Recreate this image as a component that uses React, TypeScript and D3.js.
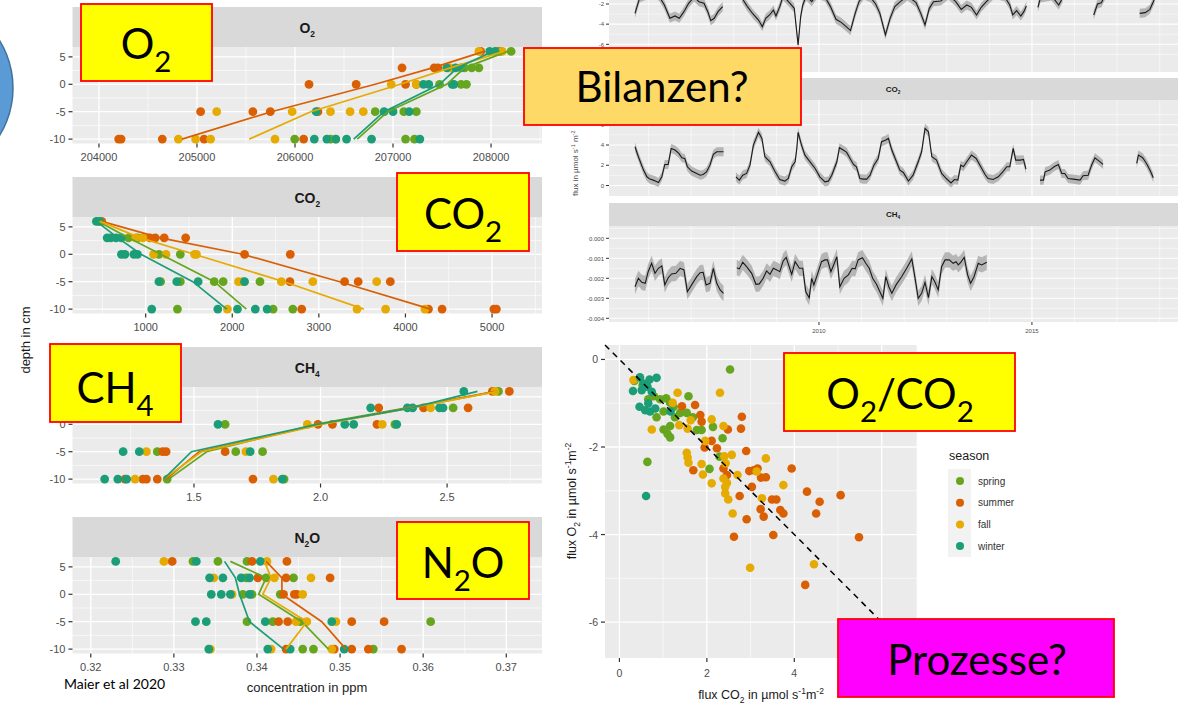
import React from 'react';
import * as d3 from 'd3';

const seasons = ['spring', 'summer', 'fall', 'winter'];
const seasonColors = ['#66A61E', '#D95F02', '#E6AB02', '#1B9E77'];
const depthLevels = [6, 3, 0, -5, -10];

// ---- depth profiles: values per depth level (6, 3, 0, -5, -10) ----
const o2Spring = [[208205, 208059], [207803, 207876, 207730], [207475, 207694, 207749], [206818, 207110, 207238], [205997, 206362, 207128, 207219]];
const o2Summer = [[207895, 208095], [207092, 207420, 207457], [206143, 206624, 207128, 207238], [205037, 205570, 205748, 206234], [204201, 204226, 204646, 205073, 206088]];
const o2Fall = [[207876, 208114], [207566, 207584], [206982, 207238], [205201, 205971, 206362, 206562, 206697], [204810, 204986, 205139, 205796, 206416]];
const o2Winter = [[207986, 208041], [207548, 207639, 207694], [207311, 207365, 207603, 207621], [206216, 206909, 207000, 207165], [206197, 206325, 206416, 206526, 206781, 207274]];
const o2Means = [
  [208168, 207730, 207548, 206946, 206635],
  [207931, 207402, 206818, 205759, 204847],
  [208132, 207584, 207073, 206161, 205533],
  [208022, 207657, 207475, 206909, 206599],
];

const co2Spring = [[460], [802, 905], [1153, 1400], [1173, 1400, 1792, 1895, 2320], [1367, 2472, 2699]];
const co2Summer = [[493], [1049, 1111, 1214, 1462], [2142, 2670], [2666, 3297, 3454, 3825], [2802, 4266, 4423, 5021, 5050]];
const co2Fall = [[472], [885, 967], [1091, 1235, 1565, 1586], [2072, 2122, 2567, 2930, 3668], [1944, 3441, 3771, 4225]];
const co2Winter = [[431, 472], [555, 596, 658, 720], [720, 761, 864, 905], [1153, 1359, 1606, 2142], [1070, 1833, 2060, 2266, 2402]];
const co2Means = [
  [452, 802, 1173, 1792, 2163],
  [493, 1170, 2120, 3240, 4290],
  [472, 940, 1560, 2600, 3520],
  [431, 680, 946, 1544, 1936],
];

const ch4Spring = [[2.703], [2.524], [1.623, 2.294], [1.355, 1.665, 1.771], [1.394, 1.856]];
const ch4Summer = [[2.679, 2.746], [2.23, 2.407, 2.583], [1.99, 2.047, 2.223], [1.376, 1.39, 1.623], [1.227, 1.298, 1.312, 1.355, 1.733]];
const ch4Fall = [[2.689], [2.435], [1.948, 2.244], [1.312, 1.705], [1.267, 1.814]];
const ch4Winter = [[2.566], [2.198, 2.343, 2.364, 2.47, 2.484], [1.595, 2.096, 2.131, 2.301], [1.22, 1.284, 1.722], [1.147, 1.199, 1.234, 1.849]];
const ch4Means = [
  [2.7, 2.34, 1.98, 1.55, 1.4],
  [2.69, 2.35, 2.0, 1.52, 1.39],
  [2.7, 2.36, 2.01, 1.53, 1.38],
  [2.62, 2.36, 1.99, 1.49, 1.38],
];

const n2oSpring = [[0.3323, 0.3353, 0.3388], [0.3387, 0.3411, 0.3444], [0.3383, 0.3394, 0.3428], [0.3388, 0.3419, 0.3452, 0.3609], [0.3455, 0.3468, 0.354]];
const n2oSummer = [[0.3298, 0.3394, 0.3436], [0.3401, 0.3435, 0.3488], [0.3432, 0.3445, 0.3448], [0.3426, 0.3437, 0.3514, 0.3553], [0.3435, 0.3493, 0.3514, 0.3534, 0.3574]];
const n2oFall = [[0.3288, 0.3412], [0.3348, 0.3421, 0.3465], [0.337, 0.3455], [0.3447, 0.346, 0.3495], [0.3344, 0.3417, 0.349]];
const n2oWinter = [[0.323, 0.3327, 0.3404], [0.3343, 0.3359, 0.3381, 0.3391], [0.3345, 0.3357, 0.3368, 0.3391], [0.3326, 0.3339, 0.341, 0.349], [0.3342, 0.3413, 0.344, 0.3505]];
const n2oMeans = [
  [0.3368, 0.3411, 0.3402, 0.3454, 0.3486],
  [0.3411, 0.343, 0.343, 0.3478, 0.3507],
  [0.3409, 0.3417, 0.3407, 0.346, 0.3435],
  [0.3361, 0.3374, 0.3379, 0.3391, 0.3432],
];

// ---- flux time series: [decimal year, flux] per continuous segment ----
const o2Flux = [
  [[2005.68, -2.93], [2005.79, -1.4], [2006.02, -1.0], [2006.24, -1.2], [2006.37, -2.1], [2006.5, -3.42], [2006.62, -3.19], [2006.72, -3.42], [2006.83, -2.76], [2006.94, -1.93], [2007.07, -1.3], [2007.18, -1.77], [2007.3, -1.93], [2007.39, -2.76], [2007.46, -3.65], [2007.54, -3.42], [2007.63, -2.76], [2007.74, -2.26]],
  [[2008.19, -1.4], [2008.32, -2.26], [2008.45, -2.99], [2008.58, -3.59], [2008.67, -4.25], [2008.75, -3.42], [2008.84, -3.09], [2008.93, -2.6], [2008.99, -3.19], [2009.08, -2.26], [2009.16, -1.2], [2009.32, -1.93], [2009.42, -2.43], [2009.51, -6.07], [2009.57, -3.26], [2009.62, -2.1], [2009.7, -1.2], [2009.83, -1.77], [2009.96, -1.0], [2010.14, -1.3], [2010.27, -2.26], [2010.4, -3.52], [2010.53, -3.85], [2010.64, -4.25], [2010.74, -4.64], [2010.85, -2.93], [2010.94, -1.77], [2011.05, -1.1], [2011.22, -1.4], [2011.33, -2.0], [2011.43, -2.93], [2011.56, -5.07], [2011.67, -3.42], [2011.78, -2.26], [2011.91, -1.77], [2012.08, -1.2], [2012.28, -1.87], [2012.39, -2.93], [2012.49, -4.08], [2012.59, -2.43], [2012.69, -1.77], [2012.86, -1.7], [2013.04, -1.1], [2013.21, -1.77], [2013.34, -2.53], [2013.47, -2.1], [2013.58, -2.33], [2013.7, -3.09], [2013.81, -2.33], [2013.93, -1.77], [2014.12, -1.0], [2014.36, -1.3], [2014.48, -2.1], [2014.55, -3.09], [2014.64, -2.66], [2014.74, -3.19], [2014.81, -2.76], [2014.87, -2.2]],
  [[2015.14, -2.33], [2015.2, -1.4], [2015.46, -1.2], [2015.63, -2.1], [2015.72, -1.4]],
  [[2016.45, -3.09], [2016.54, -2.0], [2016.63, -1.87], [2016.71, -1.2]],
  [[2017.53, -2.93], [2017.66, -2.86], [2017.77, -2.53], [2017.88, -1.5]],
];
const co2Flux = [
  [[2005.68, 3.83], [2005.76, 2.84], [2005.88, 1.52], [2005.96, 0.86], [2006.03, 0.63], [2006.11, 0.53], [2006.17, 0.43], [2006.23, 0.3], [2006.31, 0.86], [2006.38, 2.08], [2006.46, 2.08], [2006.53, 3.66], [2006.62, 3.5], [2006.71, 3.17], [2006.78, 2.74], [2006.85, 2.67], [2006.91, 1.85], [2007.01, 1.42], [2007.13, 1.19], [2007.21, 1.02], [2007.28, 1.09], [2007.36, 1.35], [2007.44, 2.01], [2007.52, 3.07], [2007.6, 3.33], [2007.76, 3.33]],
  [[2008.05, 0.86], [2008.13, 0.53], [2008.21, 1.02], [2008.3, 1.19], [2008.38, 2.01], [2008.46, 3.99], [2008.58, 5.25], [2008.66, 4.65], [2008.73, 2.84], [2008.85, 2.34], [2008.97, 1.35], [2009.08, 0.59], [2009.2, 0.43], [2009.28, 0.69], [2009.36, 1.85], [2009.44, 2.34], [2009.48, 3.66], [2009.51, 5.25], [2009.59, 3.99], [2009.67, 3.0], [2009.79, 2.34], [2009.91, 1.68], [2010.02, 0.86], [2010.14, 0.36], [2010.22, 0.43], [2010.3, 1.02], [2010.42, 2.34], [2010.48, 3.73], [2010.57, 3.5], [2010.65, 3.27], [2010.73, 2.67], [2010.81, 2.08], [2010.88, 1.85], [2010.96, 0.69], [2011.04, 0.63], [2011.12, 0.63], [2011.2, 1.02], [2011.29, 2.01], [2011.39, 2.67], [2011.47, 4.32], [2011.57, 4.49], [2011.63, 4.65], [2011.71, 3.5], [2011.82, 2.34], [2011.9, 1.52], [2011.98, 1.29], [2012.1, 0.43], [2012.21, 1.02], [2012.33, 2.34], [2012.41, 3.33], [2012.49, 5.64], [2012.57, 5.31], [2012.65, 2.84], [2012.76, 2.51], [2012.88, 1.19], [2012.99, 0.69], [2013.1, 0.26], [2013.18, 0.59], [2013.26, 0.53], [2013.33, 2.01], [2013.39, 1.85], [2013.47, 2.34], [2013.58, 3.0], [2013.69, 2.67], [2013.78, 2.01], [2013.9, 1.09], [2013.97, 0.69], [2014.09, 0.59], [2014.21, 0.86], [2014.33, 1.42], [2014.41, 1.85], [2014.48, 1.85], [2014.56, 3.66], [2014.62, 2.51], [2014.73, 2.51], [2014.8, 2.57], [2014.86, 1.62]],
  [[2015.19, 0.53], [2015.27, 0.53], [2015.31, 1.35], [2015.42, 1.52], [2015.52, 1.85], [2015.62, 2.08], [2015.7, 1.19], [2015.77, 1.19], [2015.85, 0.69], [2015.97, 0.63], [2016.13, 0.53], [2016.2, 0.96], [2016.32, 1.02], [2016.4, 2.01], [2016.48, 2.74], [2016.6, 2.34], [2016.67, 2.08]],
  [[2017.46, 2.18], [2017.5, 3.0], [2017.6, 2.74], [2017.69, 2.18], [2017.77, 1.52], [2017.85, 0.76]],
];
const ch4Flux = [
  [[2005.68, -0.00242], [2005.76, -0.002], [2005.84, -0.0022], [2005.92, -0.00225], [2005.99, -0.00167], [2006.07, -0.00125], [2006.15, -0.00175], [2006.23, -0.0015], [2006.31, -0.00138], [2006.38, -0.00233], [2006.46, -0.00197], [2006.54, -0.00178], [2006.64, -0.00175], [2006.74, -0.0015], [2006.83, -0.00158], [2006.91, -0.00267], [2007.01, -0.00233], [2007.13, -0.00192], [2007.21, -0.00172], [2007.28, -0.0017], [2007.35, -0.00233], [2007.44, -0.00225], [2007.52, -0.0015], [2007.6, -0.00225], [2007.68, -0.00258], [2007.76, -0.00275]],
  [[2008.07, -0.00147], [2008.13, -0.00153], [2008.21, -0.0012], [2008.3, -0.00142], [2008.42, -0.00175], [2008.52, -0.0023], [2008.6, -0.00228], [2008.69, -0.002], [2008.77, -0.00163], [2008.85, -0.0018], [2008.93, -0.0015], [2009.01, -0.00158], [2009.08, -0.00167], [2009.16, -0.00113], [2009.23, -0.00095], [2009.3, -0.00142], [2009.36, -0.0018], [2009.44, -0.00117], [2009.54, -0.0015], [2009.62, -0.0015], [2009.69, -0.00267], [2009.77, -0.00297], [2009.83, -0.002], [2009.88, -0.00233], [2009.96, -0.00183], [2010.06, -0.00117], [2010.14, -0.00108], [2010.2, -0.00108], [2010.28, -0.00167], [2010.36, -0.00125], [2010.42, -0.00092], [2010.49, -0.00242], [2010.59, -0.002], [2010.69, -0.00183], [2010.78, -0.0015], [2010.85, -0.00153], [2010.92, -0.00108], [2011.02, -0.00097], [2011.1, -0.00125], [2011.18, -0.0015], [2011.26, -0.002], [2011.35, -0.0023], [2011.5, -0.003], [2011.57, -0.00192], [2011.64, -0.00242], [2011.71, -0.00275], [2011.81, -0.00233], [2011.94, -0.00192], [2012.06, -0.0015], [2012.18, -0.00103], [2012.25, -0.00192], [2012.33, -0.003], [2012.41, -0.00275], [2012.49, -0.0022], [2012.57, -0.00297], [2012.65, -0.00192], [2012.72, -0.00217], [2012.8, -0.00258], [2012.88, -0.00142], [2012.96, -0.00108], [2013.06, -0.00108], [2013.15, -0.00125], [2013.22, -0.00117], [2013.27, -0.00133], [2013.33, -0.0012], [2013.41, -0.00095], [2013.49, -0.00183], [2013.56, -0.00225], [2013.64, -0.00192], [2013.74, -0.00125], [2013.82, -0.00133], [2013.94, -0.0012]],
];

// ---- O2 vs CO2 flux scatter: [flux CO2, flux O2] ----
const fluxSpring = [[0.34, -0.49], [0.53, -0.59], [0.79, -0.84], [0.93, -0.91], [1.07, -0.89], [0.85, -1.32], [1.01, -1.19], [1.16, -0.99], [1.27, -1.32], [1.39, -1.22], [1.54, -1.22], [1.58, -0.84], [1.68, -1.32], [1.01, -1.6], [1.1, -1.7], [1.16, -1.78], [1.16, -1.52], [1.77, -1.61], [1.88, -1.61], [2.14, -1.54], [2.36, -1.8], [2.29, -2.22], [2.06, -2.5], [0.64, -2.34], [2.53, -0.23], [0.66, -0.91], [1.24, -1.08]];
const fluxSummer = [[1.43, -1.07], [1.73, -1.04], [1.85, -1.27], [1.88, -1.42], [1.95, -2.01], [2.11, -1.86], [2.23, -2.03], [2.48, -1.6], [2.38, -2.49], [2.46, -2.64], [2.8, -1.31], [2.78, -1.58], [2.9, -2.09], [2.97, -2.55], [3.03, -2.91], [2.75, -3.12], [2.91, -3.65], [2.62, -4.05], [3.16, -2.49], [3.24, -2.7], [3.35, -2.69], [3.23, -3.42], [3.3, -3.59], [3.49, -3.2], [3.59, -3.2], [3.52, -4.01], [3.68, -3.44], [3.75, -3.52], [3.94, -2.49], [4.29, -3.02], [4.58, -3.25], [4.5, -3.52], [5.06, -3.1], [5.48, -4.06], [4.25, -5.15], [1.69, -2.53], [3.07, -2.53]];
const fluxFall = [[0.32, -0.47], [1.33, -0.76], [2.3, -0.76], [0.74, -1.6], [1.22, -0.99], [1.37, -1.5], [1.56, -1.58], [1.63, -1.39], [1.54, -2.13], [1.56, -2.24], [1.58, -2.36], [1.88, -2.39], [1.91, -2.63], [2.11, -1.37], [1.96, -1.86], [2.38, -1.52], [2.4, -2.21], [2.43, -2.37], [2.38, -2.72], [2.46, -2.82], [2.42, -2.91], [2.42, -3.06], [2.49, -3.2], [2.57, -2.18], [2.7, -2.64], [2.59, -3.52], [2.99, -4.76], [3.26, -3.17], [3.35, -2.26], [3.14, -2.56], [3.75, -2.87], [4.45, -4.68], [2.11, -2.83]];
const fluxWinter = [[0.31, -0.72], [0.47, -0.41], [0.69, -0.46], [0.85, -0.42], [0.46, -1.08], [0.59, -1.16], [0.66, -1.0], [0.74, -0.74], [0.7, -1.19], [0.82, -1.12], [1.17, -1.19], [0.61, -3.12], [0.55, -0.55], [0.51, -0.7], [0.64, -0.62]];
const ratioLine = [[-0.33, 0.33], [6.82, -6.82]];

const SANS = "'Liberation Sans', Arial, sans-serif";
const SLIDE = "Lato, 'Open Sans', sans-serif";

// text with _x / _{..} subscripts and ^x / ^{..} superscripts
function RichText({ x, y, text, size, anchor = 'start', weight = 'normal', fill = '#000', family = SANS, transform, subScale = 0.68 }: any) {
  const tokens = text.match(/_\{[^}]*\}|\^\{[^}]*\}|_.|\^.|[^_^]+/g) || [];
  let shift = 0;
  const spans = tokens.map((tok: string, i: number) => {
    let target = 0;
    let content = tok;
    if (tok[0] === '_' || tok[0] === '^') {
      target = tok[0] === '_' ? size * 0.3 : -size * 0.4;
      content = tok[1] === '{' ? tok.slice(2, -1) : tok.slice(1);
    }
    const dy = target - shift;
    shift = target;
    return (
      <tspan key={i} dy={dy} fontSize={target ? size * subScale : size}>{content}</tspan>
    );
  });
  return (
    <text x={x} y={y} textAnchor={anchor} fontWeight={weight} fill={fill} fontFamily={family} fontSize={size} transform={transform}>
      {spans}
    </text>
  );
}

const PX0 = 72.5;
const PX1 = 542;
const profileYTicks = [-10, -5, 0, 5];
const profileYMinor = [-7.5, -2.5, 2.5];

const profiles = [
  { label: 'O_2', top: 7, domain: [203730, 208520], ticks: [204000, 205000, 206000, 207000, 208000], minor: [204500, 205500, 206500, 207500, 208500], fmt: (d: number) => String(d), points: [o2Spring, o2Summer, o2Fall, o2Winter], means: o2Means },
  { label: 'CO_2', top: 177, domain: [155, 5577], ticks: [1000, 2000, 3000, 4000, 5000], minor: [500, 1500, 2500, 3500, 4500, 5500], fmt: (d: number) => String(d), points: [co2Spring, co2Summer, co2Fall, co2Winter], means: co2Means },
  { label: 'CH_4', top: 347, domain: [1.02, 2.875], ticks: [1.5, 2.0, 2.5], minor: [1.25, 1.75, 2.25, 2.75], fmt: d3.format('.1f'), points: [ch4Spring, ch4Summer, ch4Fall, ch4Winter], means: ch4Means },
  { label: 'N_2O', top: 517, domain: [0.3178, 0.3743], ticks: [0.32, 0.33, 0.34, 0.35, 0.36, 0.37], minor: [0.325, 0.335, 0.345, 0.355, 0.365], fmt: d3.format('.2f'), points: [n2oSpring, n2oSummer, n2oFall, n2oWinter], means: n2oMeans },
];

function ProfilePanel({ p }: any) {
  const y0 = p.top + 40;
  const y1 = p.top + 136.5;
  const x = d3.scaleLinear().domain(p.domain).range([PX0, PX1]);
  const y = d3.scaleLinear().domain([-10.8, 6.8]).range([y1, y0]);
  const path = d3.line<number[]>().x(d => x(d[1])).y(d => y(d[0]));
  return (
    <g>
      <rect x={PX0} y={p.top} width={PX1 - PX0} height={40} fill="#D9D9D9" />
      <RichText x={(PX0 + PX1) / 2} y={p.top + 26} text={p.label} size={14} weight="bold" anchor="middle" fill="#1A1A1A" subScale={0.6} />
      <rect x={PX0} y={y0} width={PX1 - PX0} height={y1 - y0} fill="#EBEBEB" />
      {p.minor.map((v: number) => <line key={'a' + v} x1={x(v)} x2={x(v)} y1={y0} y2={y1} stroke="#fff" strokeWidth={0.6} />)}
      {profileYMinor.map(v => <line key={'b' + v} x1={PX0} x2={PX1} y1={y(v)} y2={y(v)} stroke="#fff" strokeWidth={0.6} />)}
      {p.ticks.map((v: number) => <line key={'c' + v} x1={x(v)} x2={x(v)} y1={y0} y2={y1} stroke="#fff" strokeWidth={1.3} />)}
      {profileYTicks.map(v => <line key={'d' + v} x1={PX0} x2={PX1} y1={y(v)} y2={y(v)} stroke="#fff" strokeWidth={1.3} />)}
      {p.points.map((byDepth: number[][], si: number) =>
        byDepth.map((vals, di) =>
          vals.map((v, k) => (
            <circle key={`${si}-${di}-${k}`} cx={x(v)} cy={y(depthLevels[di])} r={4.4} fill={seasonColors[si]} />
          ))
        )
      )}
      {p.means.map((m: number[], si: number) => (
        <path key={'m' + si} d={path(m.map((v, di) => [depthLevels[di], v])) || ''} fill="none" stroke={seasonColors[si]} strokeWidth={1.7} />
      ))}
      {p.ticks.map((v: number) => (
        <g key={'t' + v}>
          <line x1={x(v)} x2={x(v)} y1={y1} y2={y1 + 4} stroke="#333" strokeWidth={1.2} />
          <text x={x(v)} y={p.top + 154} textAnchor="middle" fontSize={11} fill="#4D4D4D" fontFamily={SANS}>{p.fmt(v)}</text>
        </g>
      ))}
      {profileYTicks.map(v => (
        <g key={'u' + v}>
          <line x1={PX0 - 4} x2={PX0} y1={y(v)} y2={y(v)} stroke="#333" strokeWidth={1.2} />
          <text x={PX0 - 7} y={y(v) + 4} textAnchor="end" fontSize={11} fill="#4D4D4D" fontFamily={SANS}>{v}</text>
        </g>
      ))}
    </g>
  );
}

// ---- time series panels ----
const TX0 = 609;
const TX1 = 1181;
const tx = d3.scaleLinear().domain([2005.07, 2018.5]).range([TX0, TX1]);
const yearMinor = [2006, 2007, 2008, 2009, 2011, 2012, 2013, 2014, 2016, 2017, 2018];
const yearMajor = [2010, 2015];
const minus = (s: string) => s.replace('\u2212', '-');

const fluxPanels = [
  { id: 'o2', strip: null, top: -40, bottom: 72, yDomain: [-2, -6], yRange: [4, 44.3], ticks: [-6, -4, -2], minor: [-7, -5, -3, -1], fmt: (d: number) => String(d), band: 0.45, series: o2Flux },
  { id: 'co2', strip: 'CO_2', stripTop: 78, top: 100, bottom: 196, yDomain: [0, 4], yRange: [185.5, 145], ticks: [0, 2, 4, 6], minor: [1, 3, 5, 7], fmt: (d: number) => String(d), band: 0.45, series: co2Flux },
  { id: 'ch4', strip: 'CH_4', stripTop: 203, top: 226, bottom: 322, yDomain: [0, -0.004], yRange: [238.3, 318.3], ticks: [0, -0.001, -0.002, -0.003, -0.004], minor: [0.0005, -0.0005, -0.0015, -0.0025, -0.0035], fmt: (d: number) => minus(d3.format('.3f')(d)), band: 0.00038, series: ch4Flux },
];

function FluxPanel({ f }: any) {
  const y = d3.scaleLinear().domain(f.yDomain).range(f.yRange);
  const line = d3.line<number[]>().x(d => tx(d[0])).y(d => y(d[1]));
  const area = d3.area<number[]>().x(d => tx(d[0])).y0(d => y(d[1] - f.band)).y1(d => y(d[1] + f.band));
  const inside = (v: number) => y(v) >= f.top && y(v) <= f.bottom;
  return (
    <g>
      <defs>
        <clipPath id={'clip-' + f.id}>
          <rect x={TX0} y={f.top} width={TX1 - TX0} height={f.bottom - f.top} />
        </clipPath>
      </defs>
      {f.strip && (
        <g>
          <rect x={TX0} y={f.stripTop} width={TX1 - TX0} height={f.top - f.stripTop} fill="#D9D9D9" />
          <RichText x={893} y={f.stripTop + 14} text={f.strip} size={8} weight="bold" anchor="middle" fill="#1A1A1A" subScale={0.6} />
        </g>
      )}
      <rect x={TX0} y={f.top} width={TX1 - TX0} height={f.bottom - f.top} fill="#EBEBEB" />
      <g clipPath={`url(#clip-${f.id})`}>
        {f.minor.filter(inside).map((v: number) => <line key={'a' + v} x1={TX0} x2={TX1} y1={y(v)} y2={y(v)} stroke="#fff" strokeWidth={0.5} />)}
        {yearMinor.map(v => <line key={'b' + v} x1={tx(v)} x2={tx(v)} y1={f.top} y2={f.bottom} stroke="#fff" strokeWidth={0.5} />)}
        {f.ticks.filter(inside).map((v: number) => <line key={'c' + v} x1={TX0} x2={TX1} y1={y(v)} y2={y(v)} stroke="#fff" strokeWidth={1.1} />)}
        {yearMajor.map(v => <line key={'d' + v} x1={tx(v)} x2={tx(v)} y1={f.top} y2={f.bottom} stroke="#fff" strokeWidth={1.1} />)}
        {f.series.map((seg: number[][], i: number) => (
          <g key={'s' + i}>
            <path d={area(seg) || ''} fill="#A3A3A3" opacity={0.75} />
            <path d={line(seg) || ''} fill="none" stroke="#1A1A1A" strokeWidth={1.1} />
          </g>
        ))}
      </g>
      {f.ticks.filter(inside).map((v: number) => (
        <g key={'t' + v}>
          <line x1={TX0 - 3} x2={TX0} y1={y(v)} y2={y(v)} stroke="#333" strokeWidth={1} />
          <text x={TX0 - 5} y={y(v) + 2.2} textAnchor="end" fontSize={6} fill="#4D4D4D" fontFamily={SANS}>{f.fmt(v)}</text>
        </g>
      ))}
    </g>
  );
}

// ---- scatter ----
const sx = d3.scaleLinear().domain([-0.33, 6.8]).range([605, 916.7]);
const sy = d3.scaleLinear().domain([0.33, -6.82]).range([345, 658]);
const scatterSets = [fluxSpring, fluxSummer, fluxFall, fluxWinter];

function Scatter() {
  const xMajor = [0, 2, 4, 6];
  const xMinor = [1, 3, 5];
  const yMajor = [0, -2, -4, -6];
  const yMinor = [-1, -3, -5];
  const ratio = d3.line<number[]>().x(d => sx(d[0])).y(d => sy(d[1]));
  return (
    <g>
      <rect x={605} y={345} width={311.7} height={313} fill="#EBEBEB" />
      {xMinor.map(v => <line key={'a' + v} x1={sx(v)} x2={sx(v)} y1={345} y2={658} stroke="#fff" strokeWidth={0.6} />)}
      {yMinor.map(v => <line key={'b' + v} x1={605} x2={916.7} y1={sy(v)} y2={sy(v)} stroke="#fff" strokeWidth={0.6} />)}
      {xMajor.map(v => <line key={'c' + v} x1={sx(v)} x2={sx(v)} y1={345} y2={658} stroke="#fff" strokeWidth={1.3} />)}
      {yMajor.map(v => <line key={'d' + v} x1={605} x2={916.7} y1={sy(v)} y2={sy(v)} stroke="#fff" strokeWidth={1.3} />)}
      {scatterSets.map((set, si) =>
        set.map((d, k) => <circle key={`${si}-${k}`} cx={sx(d[0])} cy={sy(d[1])} r={4.3} fill={seasonColors[si]} />)
      )}
      <path d={ratio(ratioLine) || ''} fill="none" stroke="#000" strokeWidth={1.5} strokeDasharray="6,5" />
      {xMajor.slice(0, 3).map(v => (
        <g key={'t' + v}>
          <line x1={sx(v)} x2={sx(v)} y1={658} y2={662} stroke="#333" strokeWidth={1.2} />
          <text x={sx(v)} y={677} textAnchor="middle" fontSize={10.5} fill="#4D4D4D" fontFamily={SANS}>{v}</text>
        </g>
      ))}
      {yMajor.map(v => (
        <g key={'u' + v}>
          <line x1={601} x2={605} y1={sy(v)} y2={sy(v)} stroke="#333" strokeWidth={1.2} />
          <text x={598} y={sy(v) + 4} textAnchor="end" fontSize={10.5} fill="#4D4D4D" fontFamily={SANS}>{v}</text>
        </g>
      ))}
      <RichText x={761} y={699} text="flux CO_2 in µmol s^{-1}m^{-2}" size={12.5} anchor="middle" fill="#1A1A1A" />
      <RichText x={0} y={0} transform="translate(576,501) rotate(-90)" text="flux O_2 in µmol s^{-1}m^{-2}" size={12.5} anchor="middle" fill="#1A1A1A" />
      <text x={949} y={460} fontSize={12.5} fill="#1A1A1A" fontFamily={SANS}>season</text>
      <rect x={948} y={469} width={23} height={88} fill="#F2F2F2" />
      {seasons.map((s, i) => (
        <g key={s}>
          <circle cx={960} cy={481 + i * 21.7} r={4} fill={seasonColors[i]} />
          <text x={978} y={481 + i * 21.7 + 3.5} fontSize={10} fill="#333" fontFamily={SANS}>{s}</text>
        </g>
      ))}
    </g>
  );
}

function Callout({ x, y, w, h, fill, text, size, tx, ty, anchor = 'middle' }: any) {
  return (
    <g>
      <rect x={x} y={y} width={w} height={h} fill={fill} stroke="#FF0000" strokeWidth={1.8} />
      <RichText x={tx} y={ty} text={text} size={size} anchor={anchor} family={SLIDE} fill="#000" subScale={0.7} />
    </g>
  );
}

export default function App() {
  return (
    <svg width={1178} height={705} viewBox="0 0 1178 705" style={{ position: 'absolute', left: 0, top: 0, background: '#fff' }}>
      <rect x={0} y={0} width={1178} height={705} fill="#fff" />
      <circle cx={-78} cy={88} r={91} fill="#5B9BD5" stroke="#41719C" strokeWidth={1.5} />

      {profiles.map(p => <ProfilePanel key={p.label} p={p} />)}
      <text transform="translate(30,340) rotate(-90)" textAnchor="middle" fontSize={13} fill="#1A1A1A" fontFamily={SANS}>depth in cm</text>
      <text x={307} y={692} textAnchor="middle" fontSize={13} fill="#1A1A1A" fontFamily={SANS}>concentration in ppm</text>
      <text x={64} y={689} fontSize={14} fill="#000" fontFamily={SLIDE}>Maier et al 2020</text>

      {fluxPanels.map(f => <FluxPanel key={f.id} f={f} />)}
      {yearMajor.map(v => (
        <g key={'yr' + v}>
          <line x1={tx(v)} x2={tx(v)} y1={322} y2={325} stroke="#333" strokeWidth={1} />
          <text x={tx(v)} y={333} textAnchor="middle" fontSize={6} fill="#4D4D4D" fontFamily={SANS}>{v}</text>
        </g>
      ))}
      <RichText x={0} y={0} transform="translate(578,196) rotate(-90)" text="flux in µmol s^{-1} m^{-2}" size={8} fill="#4D4D4D" />

      <Scatter />

      <Callout x={81} y={4} w={131} h={77} fill="#FFFF00" text="O_2" size={42} tx={146} ty={59} />
      <Callout x={397} y={173} w={132} h={78} fill="#FFFF00" text="CO_2" size={42} tx={463} ty={229} />
      <Callout x={50} y={344} w={131} h={78} fill="#FFFF00" text="CH_4" size={42} tx={115} ty={403} />
      <Callout x={397} y={522} w={132} h={77} fill="#FFFF00" text="N_2O" size={42} tx={463} ty={578} />
      <Callout x={524} y={48} w={277} h={77} fill="#FFD966" text="Bilanzen?" size={42} tx={662} ty={102} />
      <Callout x={784} y={353} w={231} h={78} fill="#FFFF00" text="O_2/CO_2" size={42} tx={900} ty={409} />
      <Callout x={838} y={619} w={276} h={78} fill="#FF00FF" text="Prozesse?" size={42} tx={977} ty={675} />
    </svg>
  );
}
